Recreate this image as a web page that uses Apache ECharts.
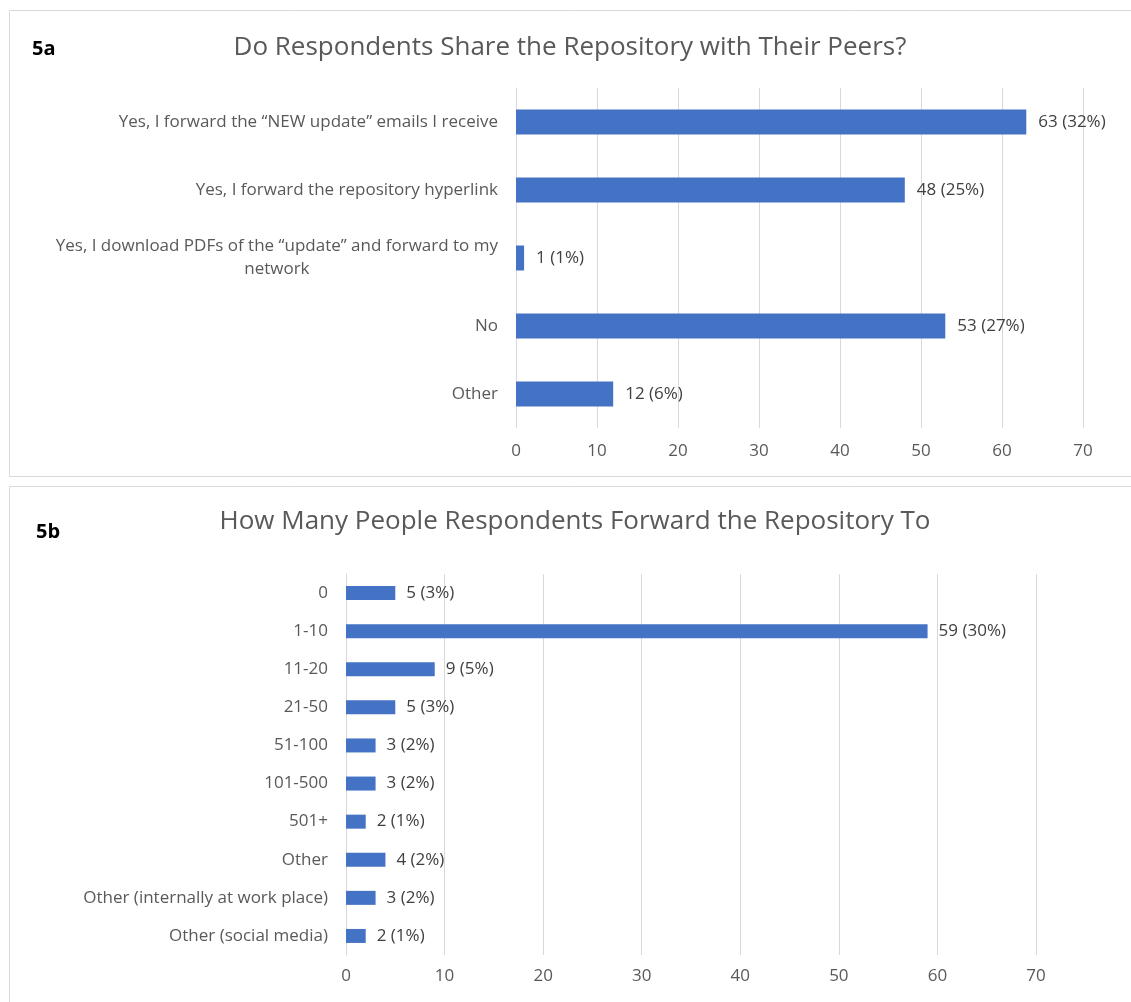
<!DOCTYPE html>
<html>
<head>
<meta charset="utf-8">
<script src="https://cdn.jsdelivr.net/npm/echarts@6/dist/echarts.min.js"></script>
<style>
html,body{margin:0;padding:0;background:#fff;}
#c{width:1131px;height:1002px;}
</style>
</head>
<body>
<div id="c"></div>
<script>
// ---- Data ----
const catsA = [
  'Yes, I forward the \u201cNEW update\u201d emails I receive',
  'Yes, I forward the repository hyperlink',
  'Yes, I download PDFs of the \u201cupdate\u201d and forward to my\nnetwork',
  'No',
  'Other'
];
const valuesA = [63, 48, 1, 53, 12];
const pctA = [32, 25, 1, 27, 6];

const catsB = ['0', '1-10', '11-20', '21-50', '51-100', '101-500', '501+', 'Other', 'Other (internally at work place)', 'Other (social media)'];
const valuesB = [5, 59, 9, 5, 3, 3, 2, 4, 3, 2];
const pctB = [3, 30, 5, 3, 2, 2, 1, 2, 2, 1];

const xTicks = [0, 10, 20, 30, 40, 50, 60, 70];

// ---- Style ----
const FONT = '"Open Sans", Lato, sans-serif';
const GRAY = '#595959';
const BLUE = '#4472C4';
const FS = 17;

const chart = echarts.init(document.getElementById('c'), null, {renderer: 'canvas'});

function catLabelFmt(v) {
  const parts = v.split('\n');
  if (parts.length > 1) return parts[0] + '\n{c|' + parts[1] + '}';
  return v;
}

function valueAxis(gridIndex, margin) {
  return {
    type: 'value', gridIndex: gridIndex, min: xTicks[0], max: xTicks[xTicks.length - 1], interval: 10,
    axisLine: {show: false}, axisTick: {show: false},
    splitLine: {show: true, lineStyle: {color: '#D9D9D9', width: 1}},
    axisLabel: {color: GRAY, fontSize: FS, fontFamily: FONT, margin: margin}
  };
}
function catAxis(gridIndex, cats) {
  return {
    type: 'category', gridIndex: gridIndex, data: cats, inverse: true,
    axisLine: {show: true, lineStyle: {color: '#D9D9D9'}}, axisTick: {show: false},
    axisLabel: {
      color: GRAY, fontSize: FS, fontFamily: FONT, margin: 18, lineHeight: 23,
      formatter: catLabelFmt,
      rich: {c: {align: 'center', color: GRAY, fontSize: FS, fontFamily: FONT, lineHeight: 23}}
    }
  };
}

const option = {
  backgroundColor: '#fff',
  animation: false,
  graphic: [
    {type: 'rect', shape: {x: 9.5, y: 10.5, width: 1130, height: 466}, style: {fill: 'none', stroke: '#D9D9D9', lineWidth: 1}},
    {type: 'rect', shape: {x: 9.5, y: 486.5, width: 1130, height: 530}, style: {fill: 'none', stroke: '#D9D9D9', lineWidth: 1}}
  ],
  title: [
    {text: '5a', left: 27, top: 34, textStyle: {fontFamily: FONT, fontWeight: 'bold', fontSize: 20, color: '#000'}},
    {text: 'Do Respondents Share the Repository with Their Peers?', left: 565, top: 30, textAlign: 'center',
      textStyle: {fontFamily: FONT, fontWeight: 'normal', fontSize: 26, color: GRAY}},
    {text: '5b', left: 31, top: 517, textStyle: {fontFamily: FONT, fontWeight: 'bold', fontSize: 20, color: '#000'}},
    {text: 'How Many People Respondents Forward the Repository To', left: 570, top: 504, textAlign: 'center',
      textStyle: {fontFamily: FONT, fontWeight: 'normal', fontSize: 26, color: GRAY}}
  ],
  grid: [
    {left: 516, width: 567, top: 88, height: 340, containLabel: false},
    {left: 346, width: 690, top: 574, height: 381, containLabel: false}
  ],
  xAxis: [valueAxis(0, 15), valueAxis(1, 13)],
  yAxis: [catAxis(0, catsA), catAxis(1, catsB)],
  series: [
    {
      type: 'bar', xAxisIndex: 0, yAxisIndex: 0, data: valuesA, barWidth: 25,
      itemStyle: {color: BLUE},
      label: {show: true, position: 'right', distance: 12, color: '#404040', fontSize: FS, fontFamily: FONT,
        formatter: p => p.value + ' (' + pctA[p.dataIndex] + '%)'}
    },
    {
      type: 'bar', xAxisIndex: 1, yAxisIndex: 1, data: valuesB, barWidth: 14,
      itemStyle: {color: BLUE},
      label: {show: true, position: 'right', distance: 11, color: '#404040', fontSize: FS, fontFamily: FONT,
        formatter: p => p.value + ' (' + pctB[p.dataIndex] + '%)'}
    }
  ]
};
chart.setOption(option);
</script>
</body>
</html>
